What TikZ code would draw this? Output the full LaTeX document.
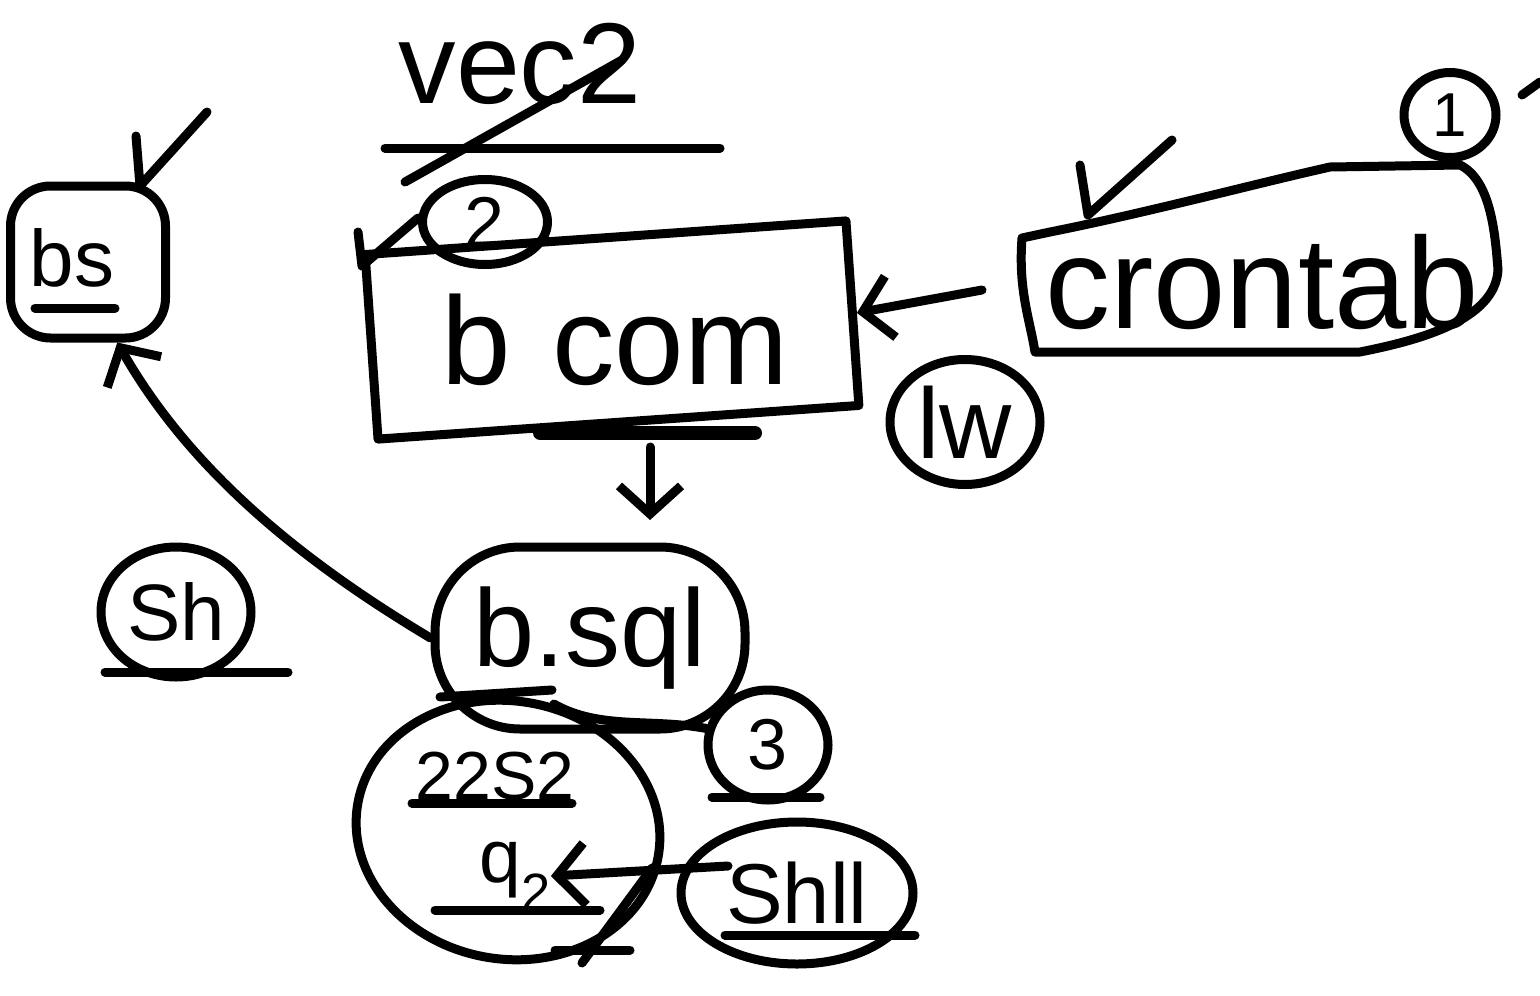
\documentclass[tikz,border=0pt]{standalone}
\usepackage{fontspec}
\setmainfont{Liberation Sans}
\usetikzlibrary{shapes.geometric,arrows.meta}
\tikzset{
  pen/.style={draw=black, line width=9pt, line cap=round, line join=round},
  blob/.style={pen, ellipse, inner sep=0pt},
  rbox/.style={pen, rectangle, rounded corners=40pt, inner sep=0pt},
  txt/.style={font=\fontsize{#1}{#1}\selectfont, inner sep=0pt},
  tip/.style={-{Straight Barb[length=28pt,width=62pt,line width=9pt]}},
}
\begin{document}
\begin{tikzpicture}[x=1pt,y=-1pt]
\useasboundingbox (0,0) rectangle (1540,996);

% ---- nodes ----
\node[rbox, minimum width=155pt, minimum height=152pt] (bs) at (88,262) {};
\node[txt=80] (bst) at (72,258) {bs};

\node[txt=115] (vec) at (520,64) {vec2};

\node[pen, rectangle, minimum width=482pt, minimum height=185pt, rotate=4] (bcom) at (612,330) {};
\node[txt=125] (bcomt) at (615,340) {b\,\,com};
\node[blob, minimum width=125pt, minimum height=85pt, txt=72] (two) at (485,222) {2};

\node[txt=130] (cron) at (1262,282) {crontab};
\node[blob, minimum width=92pt, minimum height=85pt, txt=62] (one) at (1450,115) {1};
\node[blob, minimum width=150pt, minimum height=125pt, txt=100] (lw) at (965,422) {lw};

\node[pen, rectangle, rounded corners=85pt, minimum width=310pt, minimum height=182pt, txt=110] (bsql) at (590,638) {b.sql};
\node[blob, minimum width=150pt, minimum height=130pt, txt=80] (sh) at (176,612) {Sh};
\node[blob, minimum width=120pt, minimum height=110pt, txt=72] (three) at (768,745) {3};

\node[blob, minimum width=305pt, minimum height=258pt, rotate=-10] (big) at (508,830) {};
\node[txt=68] (n22) at (495,776) {22S2};
\node[txt=75] (nq) at (515,876) {q\textsubscript{2}};

\node[blob, minimum width=232pt, minimum height=142pt, txt=85] (shll) at (797,893) {Shll};

% ---- coordinates ----
\coordinate (vecA) at (405,182);
\coordinate (vecB) at (622,60);
\coordinate (cronL) at (982,290);
\coordinate (downA) at (650,447);
\coordinate (downB) at (650,520);
\coordinate (shllL) at (728,866);

% ---- drawn shapes ----
% bs check mark and underline
\draw[pen] (136,136) -- (140,186) -- (207,112);
\draw[pen] (35,308) -- (115,308);
% vec2 strike and rule
\draw[pen] (vecA) -- (vecB);
\draw[pen] (385,148) -- (720,148);
% arrow from circle 2 to corner of b com
\draw[pen] (358,232) -- (362,266) -- (418,218);
% thick line under b com
\draw[draw=black, line width=14pt, line cap=round] (540,433) -- (755,433);
% crontab outline
\draw[pen] (1022,238) -- (1050,232) .. controls (1150,212) and (1250,185) .. (1330,167)
  -- (1460,165) .. controls (1490,180) and (1495,230) .. (1498,270)
  .. controls (1495,320) and (1420,340) .. (1360,352) -- (1035,352)
  .. controls (1030,320) and (1018,290) .. (1022,238);
\draw[pen] (1080,165) -- (1088,215) -- (1172,140);
\draw[pen] (1522,95) -- (1540,82);
% underlines
\draw[pen] (440,697) -- (552,690);
\draw[pen] (105,672) -- (288,672);
\draw[pen] (712,797) -- (820,797);
\draw[pen] (412,803) -- (572,803);
\draw[pen] (435,910) -- (600,910);
\draw[pen] (725,935) -- (915,935);
\draw[pen] (555,950) -- (630,950);
\draw[pen] (582,963) -- (652,868);

% ---- connectors ----
\draw[pen, tip] (cronL) -- (bcom.east);
\draw[pen, tip] (downA) -- (downB);
\draw[pen, tip] (bsql.west) .. controls (300,560) and (190,470) .. (bs.290);
\draw[pen] (big.80) .. controls (600,730) and (650,718) .. (three.165);
\draw[pen, tip] (shllL) -- (nq.east);
\end{tikzpicture}
\end{document}
